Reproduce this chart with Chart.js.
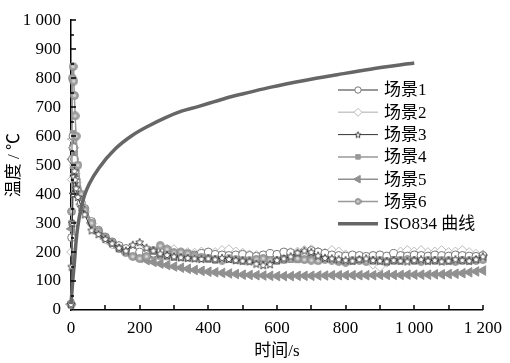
<!DOCTYPE html>
<html>
<head>
<meta charset="utf-8">
<script src="https://cdn.jsdelivr.net/npm/chart.js@4"></script>
<style>
  html, body { margin: 0; padding: 0; background: #fff; }
  #wrap { width: 510px; height: 363px; }
</style>
</head>
<body>
<div id="wrap"><canvas id="myChart" width="510" height="363"></canvas></div>
<script>
// time (s) for the six scenarios
const times = [0, 2, 4, 6, 8, 10, 12, 15, 20, 30,
  40, 60, 80, 100, 120, 140, 160, 180, 200, 220,
  240, 260, 280, 300, 320, 340, 360, 380, 400, 420,
  440, 460, 480, 500, 520, 540, 560, 580, 600, 620,
  640, 660, 680, 700, 720, 740, 760, 780, 800, 820,
  840, 860, 880, 900, 920, 940, 960, 980, 1000, 1020,
  1040, 1060, 1080, 1100, 1120, 1140, 1160, 1180, 1200];

const scene1 = [20, 250, 520, 600, 560, 520, 480, 450, 410, 370,
  350, 305, 275, 252, 235, 222, 212, 205, 200, 198,
  196, 200, 194, 192, 195, 192, 190, 195, 200, 192,
  190, 188, 190, 192, 188, 185, 190, 195, 192, 200,
  198, 192, 195, 205, 200, 195, 190, 188, 186, 190,
  188, 185, 188, 190, 186, 195, 188, 186, 190, 188,
  186, 190, 188, 186, 190, 188, 186, 185, 188];
const scene2 = [20, 200, 450, 590, 560, 500, 470, 440, 400, 360,
  340, 298, 268, 245, 228, 215, 205, 198, 195, 194,
  198, 205, 210, 208, 200, 198, 196, 200, 195, 198,
  205, 208, 200, 196, 190, 188, 186, 185, 190, 195,
  198, 200, 205, 208, 200, 196, 205, 200, 190, 180,
  180, 172, 158, 150, 165, 185, 200, 205, 200, 205,
  198, 200, 205, 198, 200, 205, 198, 192, 190];
const scene3 = [20, 150, 300, 400, 460, 480, 450, 420, 390, 355,
  330, 275, 262, 245, 230, 215, 205, 225, 234, 215,
  205, 195, 190, 185, 182, 180, 178, 176, 178, 175,
  180, 176, 172, 170, 168, 160, 155, 158, 172, 178,
  185, 198, 205, 200, 188, 180, 178, 175, 172, 170,
  175, 178, 172, 170, 168, 172, 170, 168, 172, 175,
  170, 172, 168, 170, 175, 172, 170, 175, 185];
const scene4 = [20, 300, 560, 610, 580, 540, 500, 460, 420, 375,
  345, 300, 272, 250, 232, 218, 208, 200, 195, 192,
  188, 185, 183, 181, 180, 179, 178, 177, 176, 175,
  174, 174, 173, 173, 172, 172, 175, 185, 180, 176,
  174, 173, 180, 178, 182, 176, 175, 174, 180, 176,
  174, 173, 172, 172, 173, 175, 173, 172, 176, 178,
  174, 175, 180, 178, 176, 175, 174, 175, 178];
const scene5 = [20, 280, 520, 590, 560, 530, 490, 450, 410, 365,
  345, 300, 270, 245, 228, 214, 202, 190, 180, 172,
  166, 160, 155, 150, 146, 142, 138, 135, 132, 130,
  128, 126, 124, 122, 121, 120, 119, 118, 117, 117,
  117, 118, 118, 118, 119, 119, 120, 120, 120, 120,
  120, 120, 120, 121, 121, 121, 121, 122, 122, 122,
  122, 123, 123, 124, 125, 127, 130, 133, 136];
const scene6 = [20, 340, 800, 840, 790, 740, 670, 600, 500, 400,
  345, 300, 272, 250, 232, 212, 198, 185, 178, 185,
  205, 222, 210, 198, 200, 195, 188, 182, 178, 175,
  172, 176, 174, 172, 170, 175, 178, 172, 170, 173,
  176, 178, 174, 172, 170, 175, 172, 168, 165, 170,
  172, 168, 170, 172, 168, 170, 172, 174, 170, 168,
  172, 170, 172, 170, 168, 172, 170, 172, 174];

// ISO834 curve
const isoTimes = [0, 5, 10, 15, 20, 30, 40, 53, 82, 130, 178, 226, 274, 322, 370, 418, 466, 505, 583, 680, 776, 872, 1000];
const isoTemps = [20, 100, 165, 240, 290, 355, 398, 435, 491, 557, 602, 635, 663, 686, 702, 719, 736, 747, 769, 792, 812, 831, 852];

const xTicks = [0, 200, 400, 600, 800, 1000, 1200];
const labels = ["场景1", "场景2", "场景3", "场景4", "场景5", "场景6", "ISO834 曲线"];

const serif = "'Liberation Serif', 'Noto Sans CJK SC', serif";

function pts(xs, ys) {
  return xs.map((x, i) => ({ x: x, y: ys[i] }));
}

// white star marker
function makeStar(size) {
  const c = document.createElement("canvas");
  c.width = size; c.height = size;
  const g = c.getContext("2d");
  const m = size / 2;
  g.beginPath();
  for (let i = 0; i < 10; i++) {
    const r = i % 2 == 0 ? m - 0.8 : (m - 0.8) * 0.45;
    const a = -Math.PI / 2 + i * Math.PI / 5;
    const px = m + r * Math.cos(a);
    const py = m + 0.4 + r * Math.sin(a);
    if (i == 0) g.moveTo(px, py); else g.lineTo(px, py);
  }
  g.closePath();
  g.fillStyle = "#fff";
  g.fill();
  g.lineWidth = 0.9;
  g.strokeStyle = "#333";
  g.stroke();
  return c;
}
// grey ball marker with light centre
function makeBall(size) {
  const c = document.createElement("canvas");
  c.width = size; c.height = size;
  const g = c.getContext("2d");
  const m = size / 2;
  g.beginPath();
  g.arc(m, m, m - 0.6, 0, Math.PI * 2);
  g.fillStyle = "#a2a2a2";
  g.fill();
  g.lineWidth = 1;
  g.strokeStyle = "#8a8a8a";
  g.stroke();
  g.beginPath();
  g.arc(m, m, m * 0.35, 0, Math.PI * 2);
  g.fillStyle = "#d8d8d8";
  g.fill();
  return c;
}
const starImg = makeStar(10);
const ballImg = makeBall(9);
const starSmall = makeStar(8);
const ballSmall = makeBall(7);

function fmt(v) {
  return v >= 1000 ? String(v).replace(/(\d)(\d{3})$/, "$1 $2") : String(v);
}

const datasets = [
  { label: labels[0], data: pts(times, scene1), borderColor: "#777", borderWidth: 1.5,
    pointStyle: "circle", pointRadius: 4, pointBackgroundColor: "#fff", pointBorderColor: "#777", pointBorderWidth: 1, order: 3 },
  { label: labels[1], data: pts(times, scene2), borderColor: "#c8c8c8", borderWidth: 1.5,
    pointStyle: "rectRot", pointRadius: 5, pointBackgroundColor: "#fff", pointBorderColor: "#bbb", pointBorderWidth: 1, order: 4 },
  { label: labels[2], data: pts(times, scene3), borderColor: "#333", borderWidth: 1,
    pointStyle: starImg, pointRadius: 5, pointBackgroundColor: "#fff", pointBorderColor: "#333", order: 1 },
  { label: labels[3], data: pts(times, scene4), borderColor: "#999", borderWidth: 1.5,
    pointStyle: "rect", pointRadius: 4, pointBackgroundColor: "#999", pointBorderColor: "#999", pointBorderWidth: 1, order: 5 },
  { label: labels[4], data: pts(times, scene5), borderColor: "#909090", borderWidth: 1.5,
    pointStyle: "triangle", pointRotation: 270, pointRadius: 5.5, pointBackgroundColor: "#909090", pointBorderColor: "#909090", pointBorderWidth: 1, order: 6 },
  { label: labels[5], data: pts(times, scene6), borderColor: "#999", borderWidth: 1.5,
    pointStyle: ballImg, pointRadius: 4.5, pointBackgroundColor: "#a8a8a8", pointBorderColor: "#8c8c8c", order: 2 },
  { label: labels[6], data: pts(isoTimes, isoTemps), borderColor: "#666", borderWidth: 3.5,
    pointRadius: 0, order: 0, cubicInterpolationMode: "monotone" },
];
const legendMarks = [null, null, starSmall, null, null, ballSmall, null];

// inward tick marks
const tickMarks = {
  id: "tickMarks",
  afterDraw(chart) {
    const ctx = chart.ctx;
    const xs = chart.scales.x, ys = chart.scales.y;
    const a = chart.chartArea;
    ctx.save();
    ctx.strokeStyle = "#000";
    ctx.lineWidth = 1.5;
    ctx.beginPath();
    for (let v = 100; v <= 1200; v += 100) {
      const px = Math.round(xs.getPixelForValue(v));
      ctx.moveTo(px, a.bottom);
      ctx.lineTo(px, a.bottom - 5);
    }
    for (let v = 50; v <= 1000; v += 50) {
      const py = Math.round(ys.getPixelForValue(v));
      ctx.moveTo(a.left, py);
      ctx.lineTo(a.left + (v % 100 == 0 ? 5 : 3), py);
    }
    ctx.stroke();
    ctx.restore();
  },
};

// legend inside the plot
const innerLegend = {
  id: "innerLegend",
  afterDraw(chart) {
    const ctx = chart.ctx;
    ctx.save();
    ctx.font = "17px " + serif;
    ctx.textBaseline = "middle";
    chart.data.datasets.forEach((ds, i) => {
      const y = 90 + i * 22.3;
      ctx.strokeStyle = ds.borderColor;
      ctx.lineWidth = ds.borderWidth;
      ctx.beginPath();
      ctx.moveTo(338, y);
      ctx.lineTo(378, y);
      ctx.stroke();
      if (ds.pointRadius) {
        const img = legendMarks[i];
        if (img) {
          ctx.drawImage(img, 358 - img.width / 2, y - img.height / 2);
        } else {
          ctx.fillStyle = ds.pointBackgroundColor;
          ctx.strokeStyle = ds.pointBorderColor;
          ctx.lineWidth = 1;
          Chart.helpers.drawPoint(ctx, {
            pointStyle: ds.pointStyle,
            radius: ds.pointRadius * 0.8,
            rotation: ds.pointRotation || 0,
            borderWidth: 1,
          }, 358, y);
        }
      }
      ctx.fillStyle = "#000";
      ctx.fillText(ds.label, 384, y + 1);
    });
    ctx.restore();
  },
};

new Chart(document.getElementById("myChart"), {
  type: "line",
  data: { datasets: datasets },
  options: {
    responsive: false,
    animation: false,
    clip: false,
    layout: { padding: { top: 11, right: 23, left: 0, bottom: 0 } },
    plugins: {
      legend: { display: false },
      tooltip: { enabled: false },
    },
    elements: { line: { tension: 0 } },
    scales: {
      x: {
        type: "linear",
        min: 0,
        max: 1200,
        afterBuildTicks: (s) => { s.ticks = xTicks.map((v) => ({ value: v })); },
        afterFit: (s) => { s.height = 53; },
        grid: { display: true, drawOnChartArea: false, drawTicks: false },
        border: { display: true, color: "#000", width: 1.5 },
        ticks: {
          color: "#000",
          padding: 8,
          maxRotation: 0,
          font: { family: serif, size: 17 },
          callback: (v) => fmt(v),
        },
        title: {
          display: true,
          text: "时间/s",
          color: "#000",
          padding: { top: 0, bottom: 1 },
          font: { family: serif, size: 17 },
        },
      },
      y: {
        min: 0,
        max: 1000,
        afterFit: (s) => { s.width = 71; },
        grid: { display: true, drawOnChartArea: false, drawTicks: false },
        border: { display: true, color: "#000", width: 1.5 },
        ticks: {
          stepSize: 100,
          color: "#000",
          padding: 10,
          font: { family: serif, size: 17 },
          callback: (v) => fmt(v),
        },
        title: {
          display: true,
          text: "温度 / ℃",
          color: "#000",
          padding: { top: 4, bottom: 2 },
          font: { family: serif, size: 17 },
        },
      },
    },
  },
  plugins: [tickMarks, innerLegend],
});
</script>
</body>
</html>
